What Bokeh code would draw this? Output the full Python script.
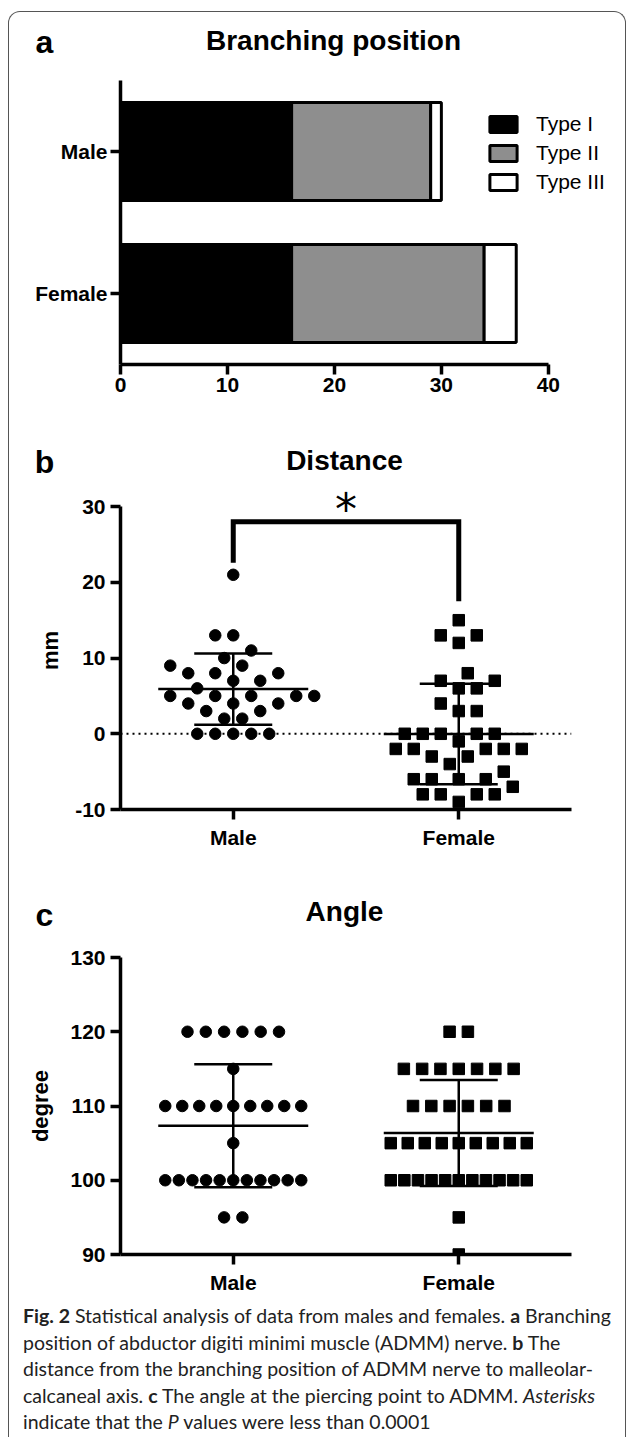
import numpy as np
from bokeh.plotting import figure
from bokeh.models import Range1d, FactorRange, FixedTicker, Label, Span, Div, ColumnDataSource
from bokeh.layouts import column
from bokeh.embed import file_html
from bokeh.resources import INLINE

# ---------------- data ----------------
# panel a (groups listed bottom to top)
groups = ["Female", "Male"]
branch_types = ["Type I", "Type II", "Type III"]
type_i = [16, 16]
type_ii = [18, 13]
type_iii = [3, 1]
type_colors = ["#000000", "#8e8e8e", "#ffffff"]

# panel b: distance (mm)
dist_male = [21, 13, 13, 11, 10, 9, 9, 8, 8, 8, 7, 7, 6, 5, 5, 5, 5, 5,
             4, 4, 4, 3, 3, 2, 2, 0, 0, 0, 0, 0]
dist_female = [15, 13, 13, 12, 8, 7, 7, 6, 6, 4, 3, 3, 0, 0, 0, 0, 0, -1,
               -2, -2, -2, -2, -2, -3, -3, -4, -5, -6, -6, -6, -6, -7,
               -8, -8, -8, -8, -9]

# panel c: angle (degree)
angle_male = [120, 120, 120, 120, 120, 120, 115,
              110, 110, 110, 110, 110, 110, 110, 110, 110, 105,
              100, 100, 100, 100, 100, 100, 100, 100, 100, 100, 100, 95, 95]
angle_female = [120, 120, 115, 115, 115, 115, 115, 115, 115,
                110, 110, 110, 110, 110, 110,
                105, 105, 105, 105, 105, 105, 105, 105, 105,
                100, 100, 100, 100, 100, 100, 100, 100, 100, 100, 100, 95, 90]

scatter_groups = ["Male", "Female"]

FONT = "Liberation Sans"
CW = 616  # content width


def style_axes(p, tick_size="21px"):
    p.grid.visible = False
    p.outline_line_color = None
    p.background_fill_color = "white"
    p.border_fill_color = "white"
    for ax in p.axis:
        ax.axis_line_width = 3.5
        ax.axis_line_color = "black"
        ax.major_tick_line_width = 3.5
        ax.major_tick_line_color = "black"
        ax.major_tick_out = 10
        ax.major_tick_in = 0
        ax.minor_tick_line_color = None
        ax.major_label_text_font = FONT
        ax.major_label_text_font_style = "bold"
        ax.major_label_text_font_size = tick_size
        ax.major_label_text_color = "black"
        ax.major_label_standoff = 5
        ax.axis_label_text_font = FONT
        ax.axis_label_text_font_style = "bold"
        ax.axis_label_text_font_size = "22px"
        ax.axis_label_text_color = "black"


def heading(letter, title, h, ly, tx, ty):
    html = (
        f'<div style="position:relative;width:{CW}px;height:{h}px;'
        f'font-family:\'Liberation Sans\',Arial,sans-serif;font-weight:bold;color:#000;">'
        f'<span style="position:absolute;left:35.5px;top:{ly}px;transform:translate(-50%,-50%);'
        f'font-size:32px;line-height:1;">{letter}</span>'
        f'<span style="position:absolute;left:{tx}px;top:{ty}px;transform:translate(-50%,-50%);'
        f'font-size:28px;line-height:1;white-space:nowrap;">{title}</span></div>')
    return Div(text=html, width=CW, height=h, margin=0)


# ---------------- panel a ----------------
src_a = ColumnDataSource(dict(group=groups, **{"Type I": type_i, "Type II": type_ii, "Type III": type_iii}))
pa = figure(y_range=FactorRange(factors=groups), x_range=Range1d(0, 46),
            frame_width=492, frame_height=284, min_border_left=111, min_border_right=CW - 111 - 492,
            min_border_top=14, min_border_bottom=56, output_backend="svg", toolbar_location=None)
pa.hbar_stack(branch_types, y="group", height=0.69, source=src_a, fill_color=type_colors,
              line_color="black", line_width=3, legend_label=branch_types)
style_axes(pa)
pa.xaxis.ticker = FixedTicker(ticks=[0, 10, 20, 30, 40])
pa.xaxis.bounds = (0, 40)
pa.xaxis.major_label_standoff = 3
pa.yaxis.major_label_standoff = 3
lg = pa.legend[0]
lg.location = (366, 170)
lg.glyph_width = 34
lg.glyph_height = 20
lg.label_height = 20
lg.spacing = 5
lg.padding = 0
lg.margin = 0
lg.border_line_color = None
lg.background_fill_alpha = 0
lg.label_standoff = 16
lg.label_text_font = FONT
lg.label_text_font_size = "21px"
lg.label_text_color = "black"
lg.label_text_baseline = "middle"

# ---------------- helpers for scatter panels ----------------
FW = 451
PXU = FW / 2.0  # px per category unit


def swarm(vals, px_per_y, diam, step):
    placed = []
    offs = [0.0] * len(vals)
    order = sorted(range(len(vals)), key=lambda i: vals[i])
    flip = True
    for i in order:
        y = vals[i] * px_per_y
        k = 0
        chosen = None
        while chosen is None:
            cands = [0.0] if k == 0 else ([k * step, -k * step] if flip else [-k * step, k * step])
            for c in cands:
                if all((c - px) ** 2 + (y - py) ** 2 >= diam ** 2 - 1e-6 for px, py in placed):
                    chosen = c
                    break
            k += 1
        if chosen != 0:
            flip = not flip
        placed.append((chosen, y))
        offs[i] = chosen
    return offs


def rows(vals, spacing, maxw):
    offs = [0.0] * len(vals)
    for v in sorted(set(vals)):
        idx = [i for i, x in enumerate(vals) if x == v]
        n = len(idx)
        s = spacing if n < 2 else min(spacing, maxw / (n - 1))
        for j, i in enumerate(idx):
            offs[i] = (j - (n - 1) / 2.0) * s
    return offs


def mean_sd(p, vals, center):
    m = float(np.mean(vals))
    sd = float(np.std(vals, ddof=1))
    hw, cw = 75 / PXU, 39 / PXU
    p.segment(x0=[center - hw, center - cw, center - cw, center],
              y0=[m, m + sd, m - sd, m - sd],
              x1=[center + hw, center + cw, center + cw, center],
              y1=[m, m + sd, m - sd, m + sd], line_color="black", line_width=2.5)


def scatter_panel(male, female, y0, y1, bounds, fh, ticks, ylabel, top, bottom, lab_standoff, mode):
    p = figure(x_range=Range1d(0.5, 2.5), y_range=Range1d(y0, y1),
               frame_width=FW, frame_height=fh, min_border_left=111, min_border_right=CW - 111 - FW,
               min_border_top=top, min_border_bottom=bottom, output_backend="svg", toolbar_location=None)
    style_axes(p)
    p.xaxis.ticker = FixedTicker(ticks=[1, 2])
    p.xaxis.major_label_overrides = {1: scatter_groups[0], 2: scatter_groups[1]}
    p.xaxis.major_label_standoff = 6
    p.yaxis.ticker = FixedTicker(ticks=ticks)
    p.yaxis.major_label_overrides = {t: str(t) for t in ticks}
    p.yaxis.bounds = bounds
    p.yaxis.axis_label = ylabel
    p.yaxis.axis_label_standoff = lab_standoff
    p.yaxis.major_label_standoff = 5
    pyu = fh / float(y1 - y0)
    for center, vals, marker in ((1, male, "circle"), (2, female, "square")):
        if mode == "swarm":
            offs = swarm(vals, pyu, 17, 4.5)
        else:
            offs = rows(vals, 18.3, 136)
        xs = [center + o / PXU for o in offs]
        p.scatter(xs, vals, marker=marker, size=11.5, fill_color="black", line_color="black")
        mean_sd(p, vals, center)
    return p


# ---------------- panel b ----------------
pb = scatter_panel(dist_male, dist_female, -10, 32, (-10, 30), 318, [-10, 0, 10, 20, 30], "mm",
                   6, 61, 9, "swarm")
pb.add_layout(Span(location=0, dimension="width", line_color="black", line_width=2,
                   line_dash="2 4"), "center")
br_top = max(dist_male + dist_female) + 7
leg_m = max(dist_male) + 1.6
leg_f = max(dist_female) + 2.5
pb.line(x=[1, 1, 2, 2], y=[leg_m, br_top, br_top, leg_f], line_color="black",
        line_width=5, line_join="miter")
pb.add_layout(Label(x=1.5, y=br_top, text="*", text_font="DejaVu Sans", text_color="black",
                    text_font_size="44px", text_align="center", text_baseline="alphabetic",
                    y_offset=12))

# ---------------- panel c ----------------
pc = scatter_panel(angle_male, angle_female, 90, 130, (90, 130), 297, [90, 100, 110, 120, 130],
                   "degree", 17, 46, 14, "rows")

# ---------------- headings ----------------
ha = heading("a", "Branching position", 54, 29.5, 324.5, 28.5)
hb = heading("b", "Distance", 65, 41.5, 335.5, 40.5)
hc = heading("c", "Angle", 70, 44.5, 335.5, 41.5)

# ---------------- caption ----------------
caption_html = (
    '<div style="font-family:Lato, sans-serif;font-size:19.5px;line-height:26.5px;color:#222;'
    'white-space:nowrap;padding:3px 0 0 14px;">'
    '<b>Fig. 2</b> Statistical analysis of data from males and females. <b>a</b> Branching<br>'
    'position of abductor digiti minimi muscle (ADMM) nerve. <b>b</b> The<br>'
    'distance from the branching position of ADMM nerve to malleolar-<br>'
    'calcaneal axis. <b>c</b> The angle at the piercing point to ADMM. <i>Asterisks</i><br>'
    'indicate that the <i>P</i> values were less than 0.0001</div>')
cap = Div(text=caption_html, width=CW, height=137, margin=0, styles={"overflow": "visible"})

layout = column(ha, pa, hb, pb, hc, pc, cap, margin=(11, 0, 0, 8),
                styles={"border-top": "1.5px solid #555", "border-left": "1.5px solid #555",
                        "border-right": "1.5px solid #555", "border-radius": "12px 12px 0 0",
                        "background": "white"})

open("out.html", "w").write(file_html(layout, INLINE))
